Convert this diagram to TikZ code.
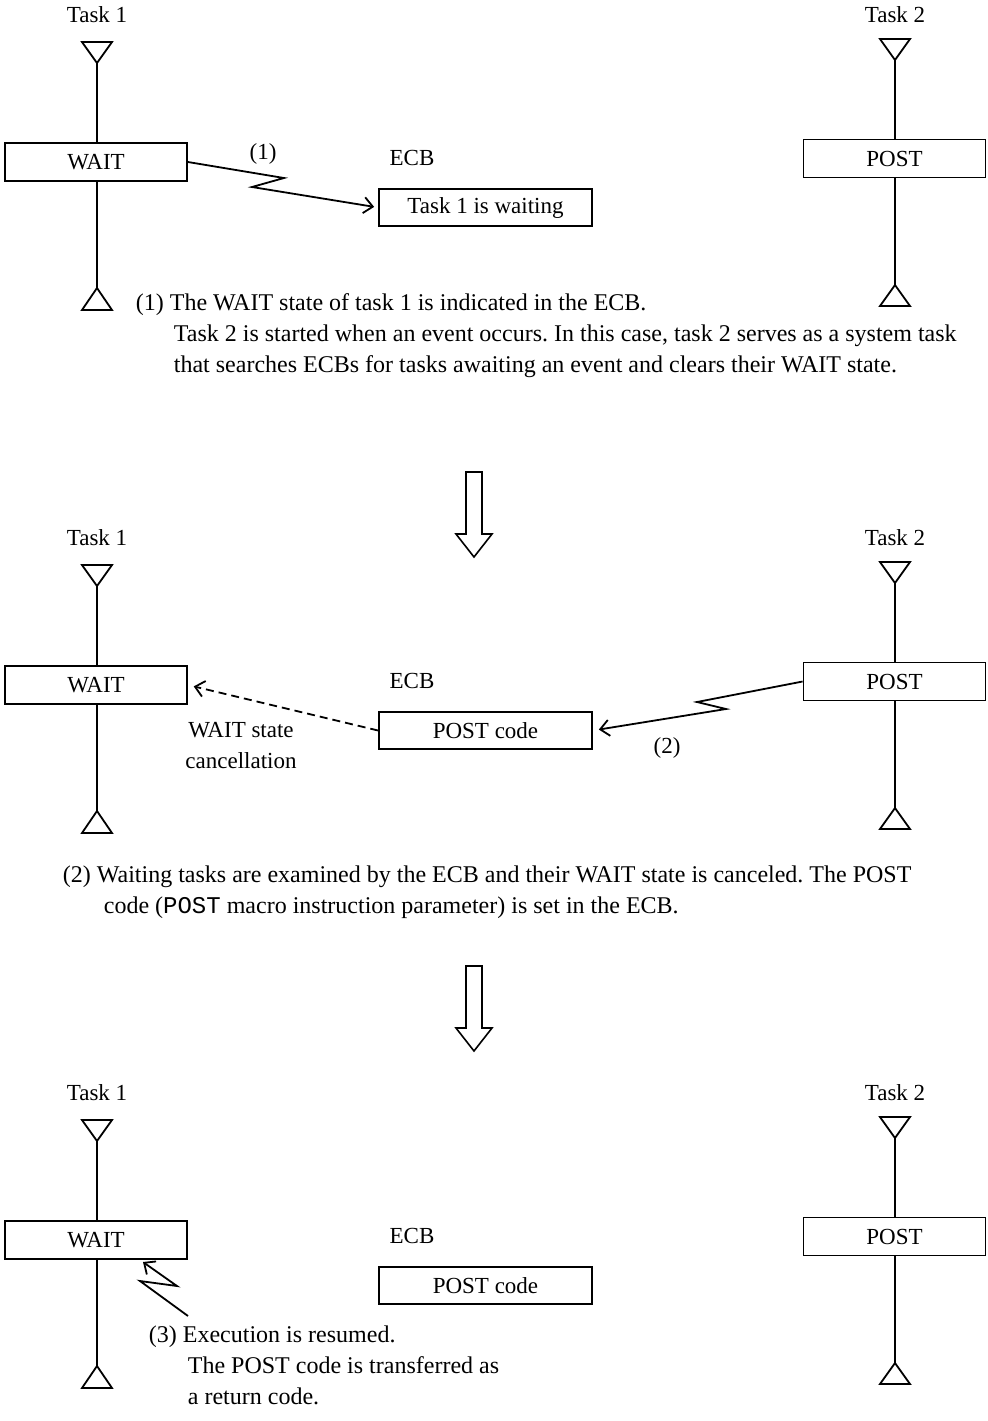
\documentclass[tikz,border=0pt]{standalone}
\usepackage{fontspec}
\setmainfont{Liberation Serif}
\setmonofont{Liberation Mono}
\usetikzlibrary{arrows.meta, positioning, calc}
\frenchspacing

\begin{document}
\begin{tikzpicture}[
		% global settings (1 unit = 1 px of the sheet, y runs downwards)
		x=0.5pt, y=-0.5pt,
		font=\fontsize{11.5}{15.5}\selectfont,
		line width=0.9pt,
		% styles
		taskbox/.style={rectangle, draw, minimum width=91pt, minimum height=19pt, inner sep=0pt},
		ecbbox/.style={rectangle, draw, minimum width=106.5pt, minimum height=18.5pt, inner sep=0pt},
		txt/.style={inner sep=0pt},
		note/.style={inner sep=0pt, anchor=base west, align=left, font=\fontsize{12}{15.5}\selectfont},
		arrow/.style={-{Straight Barb[length=4.5pt, width=8pt]}, line join=miter},
		flow/.style={draw, line width=0.8pt, fill=white}
		]
		\useasboundingbox (0,0) rectangle (988,1421);
		
		% ==========================================
		% Three snapshots: tasks, triangles and ECB
		% ==========================================
		\foreach \p/\dy/\ecbtext in {1/0/Task 1 is waiting, 2/523/POST code, 3/1078/POST code} {
			% Task 1
			\node[txt] (taskone\p) at (97,15+\dy) {Task 1};
			\node[taskbox] (wait\p) at (96,162+\dy) {WAIT};
			\draw (82,42+\dy) -- (112,42+\dy) -- (97,63+\dy) -- cycle;
			\draw (97,288+\dy) -- (112,310+\dy) -- (82,310+\dy) -- cycle;
			\draw (97,63+\dy) -- (wait\p.north -| 97,0);
			\draw (wait\p.south -| 97,0) -- (97,288+\dy);
			
			% Task 2
			\node[txt] (tasktwo\p) at (895,15+\dy) {Task 2};
			\node[taskbox] (post\p) at (894.5,158.5+\dy) {POST};
			\draw (880,39+\dy) -- (910,39+\dy) -- (895,60+\dy) -- cycle;
			\draw (895,285+\dy) -- (910,306+\dy) -- (880,306+\dy) -- cycle;
			\draw (895,60+\dy) -- (post\p.north -| 895,0);
			\draw (post\p.south -| 895,0) -- (895,285+\dy);
			
			% ECB
			\node[txt] (ecblabel\p) at (412,158+\dy) {ECB};
			\node[ecbbox] (ecb\p) at (485.5,207.5+\dy) {\ecbtext};
		}
		
		% ==========================================
		% Step (1)
		% ==========================================
		\draw[arrow, shorten >=2pt] (wait1.east) -- (284,178) -- (252,187) -- (ecb1.west);
		\node[txt] (step1) at (263,154) {(1)};
		
		% base west = baseline of the last line
		\node[note] (note1) at (135,372) {(1) The WAIT state of task 1 is indicated in the ECB.\\
			\hspace*{19pt}Task 2 is started when an event occurs. In this case, task 2 serves as a system task\\
			\hspace*{19pt}that searches ECBs for tasks awaiting an event and clears their WAIT state.};
		
		% ==========================================
		% Step (2)
		% ==========================================
		\draw[arrow, shorten >=3pt] (post2.west) -- (697,702) -- (726,709) -- (ecb2.east);
		\node[txt] (step2) at (667,748) {(2)};
		\draw[arrow, dash pattern=on 4pt off 2.5pt, shorten >=3pt] (ecb2.west) -- (wait2.east);
		\node[txt, align=center] (cancel) at (241,746) {WAIT state\\cancellation};
		
		\node[note] (note2) at (62,913) {(2) Waiting tasks are examined by the ECB and their WAIT state is canceled. The POST\\
			\hspace*{20.5pt}code (\texttt{POST} macro instruction parameter) is set in the ECB.};
		
		% ==========================================
		% Step (3)
		% ==========================================
		\coordinate (resume) at (188,1316);
		\coordinate (resumetip) at (143,1262);
		\draw[arrow] (resume) -- (140,1281) -- (177,1286) -- (resumetip);
		
		\node[note] (note3) at (148,1404) {(3) Execution is resumed.\\
			\hspace*{19.5pt}The POST code is transferred as\\
			\hspace*{19.5pt}a return code.};
		
		% ==========================================
		% Hollow arrows between the snapshots
		% ==========================================
		\foreach \t in {472,966} {
			\path[flow] (466,\t) -- (482,\t) -- (482,\t+62) -- (492,\t+62) -- (474,\t+85)
			-- (456,\t+62) -- (466,\t+62) -- cycle;
		}
		
	\end{tikzpicture}
\end{document}
